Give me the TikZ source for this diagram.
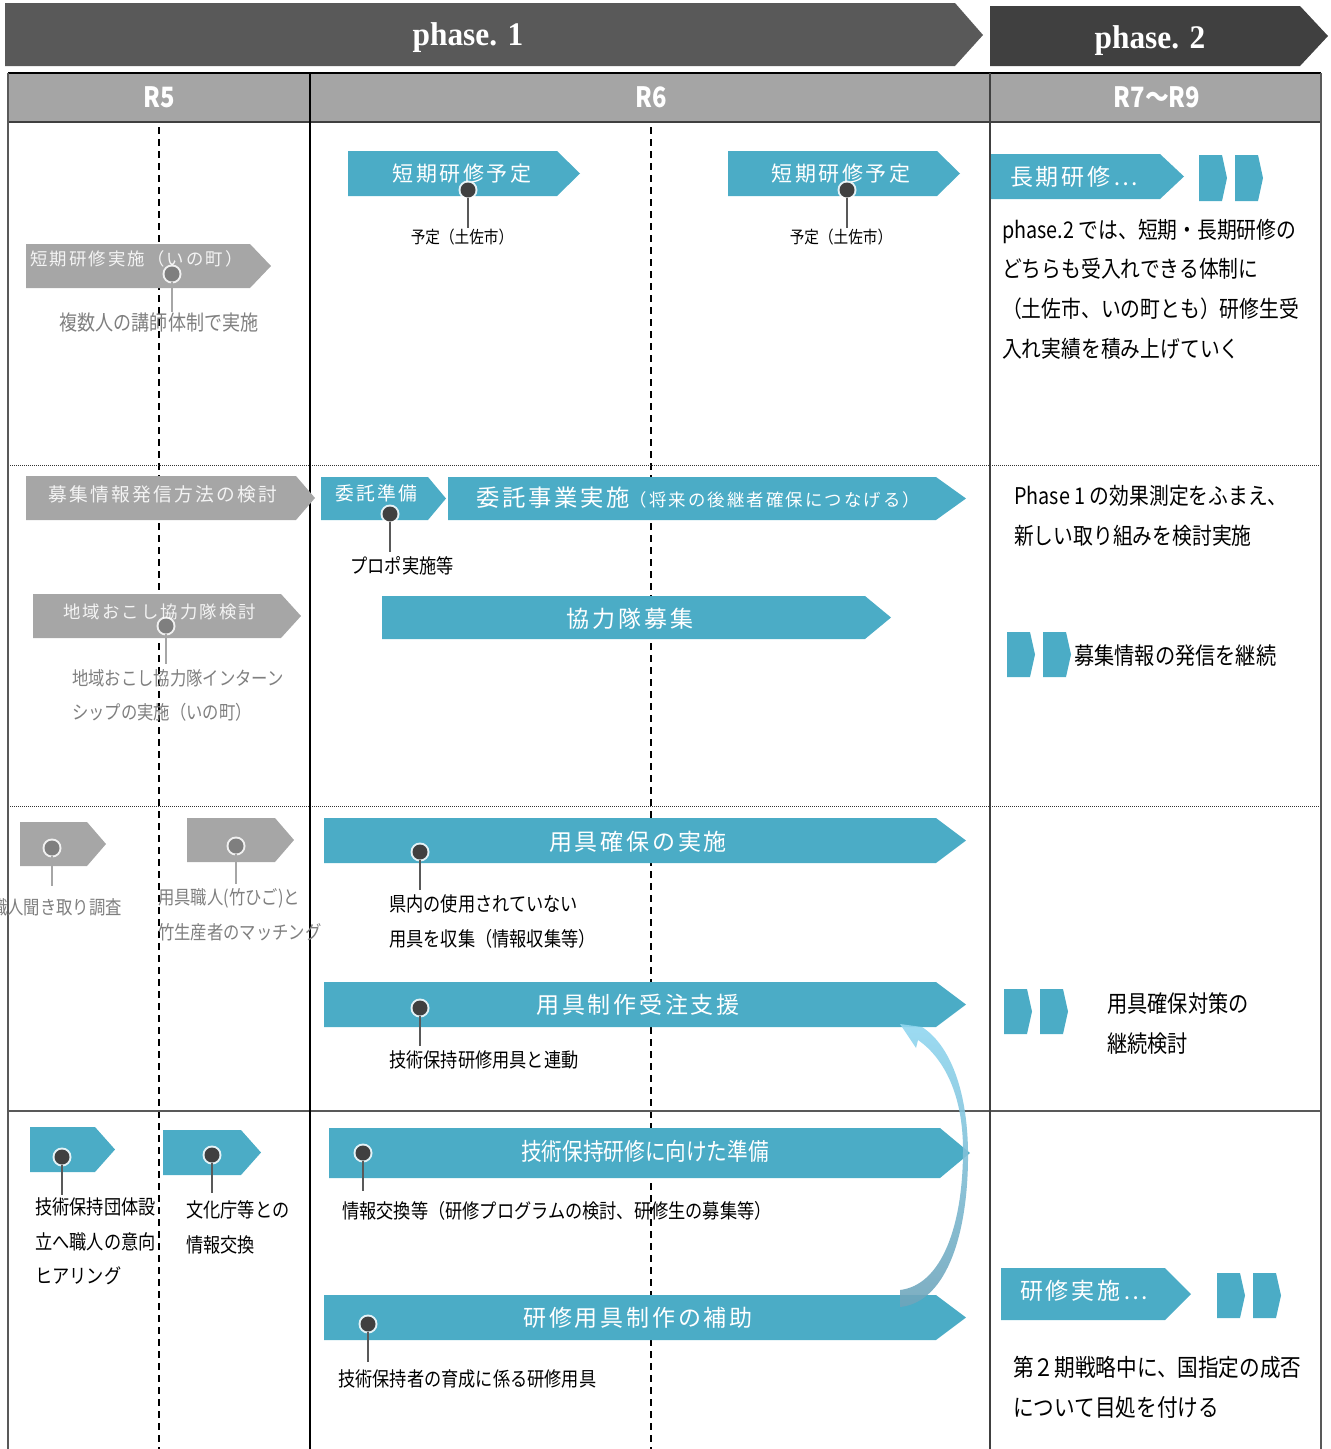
\documentclass[tikz,border=0pt]{standalone}
\usepackage{fontspec}
\newfontfamily\jpw[LetterSpace=12]{Noto Sans CJK JP}
\newfontfamily\jpc[FakeStretch=0.86]{Noto Sans CJK JP}
\newfontfamily\hdf[FakeStretch=0.85]{Noto Sans CJK JP}
\newfontfamily\serf[FakeStretch=0.95]{Liberation Serif}
\definecolor{blu}{HTML}{4BACC6}
\definecolor{gry}{HTML}{A6A6A6}
\definecolor{phA}{HTML}{595959}
\definecolor{phB}{HTML}{404040}
\definecolor{hdr}{HTML}{A5A5A5}
\definecolor{pinD}{HTML}{404040}
\definecolor{pinG}{HTML}{7F7F7F}
\definecolor{plD}{HTML}{595959}
\definecolor{plG}{HTML}{A6A6A6}
\definecolor{labG}{HTML}{7F7F7F}
\definecolor{gtx}{HTML}{F4F4F4}
\definecolor{arT}{HTML}{91D7F0}
\definecolor{arB}{HTML}{6FA5BB}
\newcommand\fs[1]{\fontsize{#1}{#1}\selectfont}
\newcommand\chev[6]{\fill[#1] (#2,#3) -- (#4,#3) -- (#5,{(#3+#6)/2}) -- (#4,#6) -- (#2,#6) -- cycle;}
\newcommand\blk[3]{\fill[blu] (#1,#2) -- ({#1+23},#2) -- ({#1+28},{(#2+#3)/2}) -- ({#1+23},#3) -- (#1,#3) -- cycle;}
\newcommand\pin[4]{%
  \fill[white, opacity=0.85] (#2,#3) circle (9.5pt);
  \coordinate (#1e) at (#2,{#3+38});
  \node[circle, fill=pin#4, inner sep=0pt, minimum size=15pt] (#1) at (#2,#3) {};
  \draw[line width=2pt, pl#4] (#1) -- (#1e);}
\tikzset{
  lb/.style={inner sep=0pt, anchor=base west},
  lbc/.style={inner sep=0pt, anchor=base},
  lbe/.style={inner sep=0pt, anchor=base east},
  dashv/.style={line width=1.2pt, dash pattern=on 7pt off 5pt},
  dotr/.style={line width=0.9pt, dash pattern=on 1pt off 1pt, black!80},
}
\begin{document}
\begin{tikzpicture}[x=1pt,y=-1pt]
\useasboundingbox (0,0) rectangle (1331,1449);
% phase banners
\fill[phA] (5,3) -- (955,3) -- (983,35) -- (955,66) -- (5,66) -- cycle;
\fill[phB] (990,6) -- (1300,6) -- (1328,36) -- (1300,66) -- (990,66) -- cycle;
\node[lbc, text=white, font=\serf\bfseries\fs{33}] (ph1) at (468,45) {phase. 1};
\node[lbc, text=white, font=\serf\bfseries\fs{33}] (ph2) at (1150,48) {phase. 2};
% table header
\fill[hdr] (8,73) rectangle (1321,122);
\node[lbc, text=white, font=\hdf\bfseries\fs{28}] (r5) at (159,107.2) {R5};
\node[lbc, text=white, font=\hdf\bfseries\fs{28}] (r6) at (651,107.2) {R6};
\node[lbc, text=white, font=\hdf\bfseries\fs{28}] (r7) at (1157,107.2) {R7〜R9};
% dashed centre lines
\draw[dashv] (159,127) -- (159,1449);
\draw[dashv] (651,127) -- (651,1449);
% row separators
\draw[dotr] (8,465) -- (1321,465);
\draw[dotr] (8,806) -- (1321,806);
\draw[line width=2pt, phA] (8,1111) -- (1321,1111);
% frame
\draw[line width=1.5pt, black] (8,73) -- (1321,73);
\draw[line width=2pt, phB] (8,122) -- (1321,122);
\draw[line width=2pt, phA] (8,73) -- (8,1449);
\draw[line width=1.5pt, black] (310,73) -- (310,1449);
\draw[line width=2pt, phB] (990,73) -- (990,1449);
\draw[line width=2pt, phA] (1321,73) -- (1321,1449);

% ===== Row 1 =====
\chev{gry}{26}{244}{250}{271}{288}
\node[lb, text=gtx, font=\jpw\fs{17.4}] (a1) at (30,265.6) {短期研修実施（いの町）};
\pin{p1}{172}{274}{G}
\node[lbc, text=labG, font=\jpc\fs{21}] (a1l) at (159,330) {複数人の講師体制で実施};

\chev{blu}{348}{151}{557}{580}{196}
\node[lbc, text=white, font=\jpw\fs{21}] (b1) at (462,181) {短期研修予定};
\pin{p2}{468}{190}{D}
\node[lbc, font=\jpc\fs{17}] (b1l) at (462,243.5) {予定（土佐市）};

\chev{blu}{728}{151}{937}{960}{196}
\node[lbc, text=white, font=\jpw\fs{21}] (b2) at (841,181) {短期研修予定};
\pin{p3}{847}{190}{D}
\node[lbc, font=\jpc\fs{17}] (b2l) at (841,243.5) {予定（土佐市）};

\chev{blu}{991}{154}{1160}{1184}{199}
\node[lb, text=white, font=\jpw\fs{23}] (c1) at (1010,185.7) {長期研修…};
\blk{1199}{155}{201}
\blk{1235}{155}{201}
\node[lb, font=\jpc\fs{23}] (c1a) at (1002,238.7) {phase.2 では、短期・長期研修の};
\node[lb, font=\jpc\fs{23}] (c1b) at (1002,277.7) {どちらも受入れできる体制に};
\node[lb, font=\jpc\fs{23}] (c1c) at (1002,317.7) {（土佐市、いの町とも）研修生受};
\node[lb, font=\jpc\fs{23}] (c1d) at (1002,357.7) {入れ実績を積み上げていく};

% ===== Row 2 =====
\chev{gry}{26}{476}{296}{315}{520}
\node[lb, text=gtx, font=\jpw\fs{18.75}] (a2) at (48,501.1) {募集情報発信方法の検討};
\chev{gry}{33}{594}{281}{301}{638}
\node[lb, text=gtx, font=\jpw\fs{17.4}] (a3) at (63,618.6) {地域おこし協力隊検討};
\pin{p4}{166}{626}{G}
\node[lb, text=labG, font=\jpc\fs{19}] (a3a) at (72,685.2) {地域おこし協力隊インターン};
\node[lb, text=labG, font=\jpc\fs{19}] (a3b) at (72,719.2) {シップの実施（いの町）};

\chev{blu}{321}{477}{428}{446}{520}
\node[lb, text=white, font=\jpw\fs{18.75}] (b3) at (335,500.1) {委託準備};
\pin{p5}{390}{514}{D}
\node[lbc, font=\jpc\fs{20}] (b3l) at (402,573.6) {プロポ実施等};

\chev{blu}{448}{477}{936}{966}{520}
\node[lb, text=white, font=\jpw] (b4) at (476,506.7) {\fs{23.3}委託事業実施\fs{17.4}（将来の後継者確保につなげる）};
\chev{blu}{382}{596}{865}{891}{639}
\node[lbc, text=white, font=\jpw\fs{23}] (b5) at (630,627.7) {協力隊募集};

\node[lb, font=\jpc\fs{23}] (c2a) at (1014,504.7) {Phase 1 の効果測定をふまえ、};
\node[lb, font=\jpc\fs{23}] (c2b) at (1014,544.7) {新しい取り組みを検討実施};
\blk{1007}{632}{677}
\blk{1043}{632}{677}
\node[lb, font=\jpc\fs{23.5}] (c2c) at (1074,664.9) {募集情報の発信を継続};

% ===== Row 3 =====
\chev{gry}{20}{822}{87}{106}{866}
\pin{p6}{52}{848}{G}
\node[lbe, text=labG, font=\jpc\fs{19}] (a4l) at (122,914.2) {職人聞き取り調査};
\chev{gry}{187}{818}{275}{294}{862}
\pin{p7}{236}{846}{G}
\node[lb, text=labG, font=\jpc\fs{19}] (a5a) at (158,904.2) {用具職人(竹ひご)と};
\node[lb, text=labG, font=\jpc\fs{19}] (a5b) at (158,939.2) {竹生産者のマッチング};

\chev{blu}{324}{818}{936}{966}{863}
\node[lbc, text=white, font=\jpw\fs{23}] (b6) at (638,850.7) {用具確保の実施};
\pin{p8}{420}{852}{D}
\node[lb, font=\jpc\fs{20}] (b6a) at (389,911.6) {県内の使用されていない};
\node[lb, font=\jpc\fs{20}] (b6b) at (389,946.6) {用具を収集（情報収集等）};

\chev{blu}{324}{982}{936}{966}{1027}
\node[lbc, text=white, font=\jpw\fs{23}] (b7) at (638,1013.7) {用具制作受注支援};
\pin{p9}{420}{1008}{D}
\node[lb, font=\jpc\fs{20}] (b7a) at (389,1067.6) {技術保持研修用具と連動};

\blk{1004}{989}{1034}
\blk{1040}{989}{1034}
\node[lb, font=\jpc\fs{23.5}] (c3a) at (1107,1012.9) {用具確保対策の};
\node[lb, font=\jpc\fs{23.5}] (c3b) at (1107,1052.9) {継続検討};

% ===== Row 4 =====
\chev{blu}{30}{1127}{95}{115}{1172}
\pin{p10}{62}{1157}{D}
\node[lb, font=\jpc\fs{20}] (a6a) at (35,1214.6) {技術保持団体設};
\node[lb, font=\jpc\fs{20}] (a6b) at (35,1249.6) {立へ職人の意向};
\node[lb, font=\jpc\fs{20}] (a6c) at (35,1283.6) {ヒアリング};
\chev{blu}{163}{1130}{241}{261}{1175}
\pin{p11}{212}{1155}{D}
\node[lb, font=\jpc\fs{20}] (a7a) at (186,1217.6) {文化庁等との};
\node[lb, font=\jpc\fs{20}] (a7b) at (186,1252.6) {情報交換};

\chev{blu}{329}{1128}{940}{970}{1178}
\node[lbc, text=white, font=\jpc\fs{24}] (b8) at (645,1160.1) {技術保持研修に向けた準備};
\pin{p12}{363}{1153}{D}
\node[lb, font=\jpc\fs{20}] (b8a) at (342,1218.6) {情報交換等（研修プログラムの検討、研修生の募集等）};

\chev{blu}{324}{1295}{936}{966}{1340}
\node[lbc, text=white, font=\jpw\fs{23}] (b9) at (638,1326.7) {研修用具制作の補助};
\pin{p13}{368}{1324}{D}
\node[lb, font=\jpc\fs{20}] (b9a) at (338,1386.6) {技術保持者の育成に係る研修用具};

\chev{blu}{1001}{1268}{1165}{1191}{1320}
\node[lb, text=white, font=\jpw\fs{23}] (c4) at (1020,1299.7) {研修実施…};
\blk{1217}{1273}{1318}
\blk{1253}{1273}{1318}
\node[lb, font=\jpc\fs{24}] (c4a) at (1013,1376.1) {第２期戦略中に、国指定の成否};
\node[lb, font=\jpc\fs{24}] (c4b) at (1013,1416.1) {について目処を付ける};

% curved block arrow
\shade[top color=arT, bottom color=arB, opacity=0.9]
  (900,1307) .. controls (948,1302) and (969,1230) .. (968,1150)
  .. controls (967,1090) and (950,1045) .. (922,1027)
  -- (900,1024) -- (916,1048) -- (918,1040)
  .. controls (944,1058) and (963,1095) .. (963,1150)
  .. controls (963,1225) and (942,1285) .. (900,1290) -- cycle;
\end{tikzpicture}
\end{document}
